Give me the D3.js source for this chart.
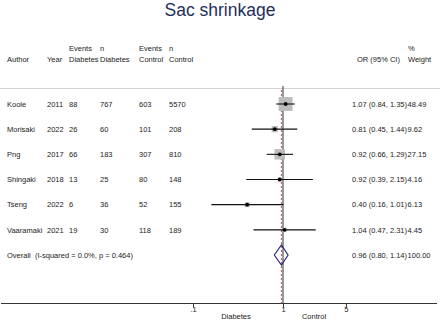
<!DOCTYPE html>
<html>
<head>
<meta charset="utf-8">
<script src="https://cdn.jsdelivr.net/npm/d3@7"></script>
<style>
  body { margin: 0; background: #fff; }
  svg { font-family: "Liberation Sans", Arial, sans-serif; }
</style>
</head>
<body>
<div id="chart"></div>
<script>
// study data
var authors = ["Koole", "Morisaki", "Png", "Shingaki", "Tseng", "Vaaramaki"];
var years = ["2011", "2022", "2017", "2018", "2022", "2021"];
var eventsDiab = ["88", "26", "66", "13", "6", "19"];
var nDiab = ["767", "60", "183", "25", "36", "30"];
var eventsCtrl = ["603", "101", "307", "80", "52", "118"];
var nCtrl = ["5570", "208", "810", "148", "155", "189"];
var orVals = [1.07, 0.81, 0.92, 0.92, 0.40, 1.04];
var loVals = [0.84, 0.45, 0.66, 0.39, 0.16, 0.47];
var hiVals = [1.35, 1.44, 1.29, 2.15, 1.01, 2.31];
var weights = ["48.49", "9.62", "27.15", "4.16", "6.13", "4.45"];
var overall = {label: "Overall  (I-squared = 0.0%, p = 0.464)", or: 0.96, lo: 0.80, hi: 1.14, weight: "100.00"};
var tickVals = [0.1, 1, 5];
var tickLabels = [".1", "1", "5"];

var width = 440, height = 328;
var txt = "#222";

var svg = d3.select("#chart").append("svg")
  .attr("width", width)
  .attr("height", height);

/* title */
svg.append("text")
  .attr("x", 220).attr("y", 16)
  .attr("text-anchor", "middle")
  .attr("fill", "#1f2e5c")
  .style("font-size", "17.5px")
  .text("Sac shrinkage");

/* column headers */
var cols = [
  {x: 7, top: "", bot: "Author"},
  {x: 47, top: "", bot: "Year"},
  {x: 69, top: "Events", bot: "Diabetes"},
  {x: 100, top: "n", bot: "Diabetes"},
  {x: 139, top: "Events", bot: "Control"},
  {x: 169, top: "n", bot: "Control"},
  {x: 357, top: "", bot: "OR (95% CI)"},
  {x: 408, top: "%", bot: "Weight"}
];
var head = svg.append("g").style("font-size", "7.5px").attr("fill", txt);
cols.forEach(function(c) {
  head.append("text").attr("x", c.x).attr("y", 50.5).text(c.top);
  head.append("text").attr("x", c.x).attr("y", 61.5).text(c.bot);
});

svg.append("line")
  .attr("x1", 0).attr("x2", 440)
  .attr("y1", 88.5).attr("y2", 88.5)
  .attr("stroke", "#d4d4d4").attr("stroke-width", 1);

/* scales */
var xScale = d3.scaleLog().domain([0.1, 1]).range([193, 283]);
var rowIdx = authors.map((d, i) => i).concat([authors.length]);
var yScale = d3.scalePoint().domain(rowIdx).range([104, 255]);
var boxSize = d3.scaleSqrt().domain([0, 100]).range([0, 20]);

/* study rows text */
var rows = svg.append("g").style("font-size", "7.5px").attr("fill", txt);
authors.forEach(function(a, i) {
  var y = yScale(i) + 2.7;
  var vals = [a, years[i], eventsDiab[i], nDiab[i], eventsCtrl[i], nCtrl[i]];
  vals.forEach(function(v, j) {
    rows.append("text").attr("x", cols[j].x).attr("y", y).text(v);
  });
  var t = rows.append("text").attr("x", 352).attr("y", y);
  t.append("tspan").text(orVals[i].toFixed(2) + " (" + loVals[i].toFixed(2) + ", " + hiVals[i].toFixed(2) + ")");
  t.append("tspan").attr("dx", 0.5).text(weights[i]);
});
var yo = yScale(authors.length) + 2.7;
rows.append("text").attr("x", 7).attr("y", yo)
  .style("white-space", "pre")
  .text(overall.label);
var to = rows.append("text").attr("x", 352).attr("y", yo);
to.append("tspan").text(overall.or.toFixed(2) + " (" + overall.lo.toFixed(2) + ", " + overall.hi.toFixed(2) + ")");
to.append("tspan").attr("dx", 0.5).text(overall.weight);

/* axis */
var axisY = 303.5;
svg.append("line")
  .attr("x1", 1).attr("x2", 437)
  .attr("y1", axisY).attr("y2", axisY)
  .attr("stroke", "#333").attr("stroke-width", 1);

var xAxis = d3.axisBottom(xScale)
  .tickValues(tickVals)
  .tickSize(4)
  .tickFormat((d, i) => tickLabels[i]);

var ax = svg.append("g")
  .attr("transform", "translate(0," + axisY + ")")
  .call(xAxis);
ax.select(".domain").remove();
ax.selectAll("line").attr("stroke", "#333");
ax.selectAll("text")
  .attr("fill", txt)
  .attr("y", 3)
  .style("font-size", "7.5px")
  .style("font-family", "Liberation Sans, Arial, sans-serif");

svg.append("text").attr("x", 236).attr("y", 319).attr("text-anchor", "middle")
  .attr("fill", txt).style("font-size", "7.5px").text("Diabetes");
svg.append("text").attr("x", 314).attr("y", 319).attr("text-anchor", "middle")
  .attr("fill", txt).style("font-size", "7.5px").text("Control");

/* null line and overall dashed line */
svg.append("line")
  .attr("x1", xScale(1)).attr("x2", xScale(1))
  .attr("y1", 86).attr("y2", axisY)
  .attr("stroke", "#333").attr("stroke-width", 1);

svg.append("line")
  .attr("x1", xScale(overall.or)).attr("x2", xScale(overall.or))
  .attr("y1", 90).attr("y2", axisY)
  .attr("stroke", "#b05a52").attr("stroke-width", 1)
  .attr("stroke-dasharray", "2,2");

/* boxes, CI lines, points */
var marks = svg.append("g");
marks.selectAll("rect.box")
  .data(authors).enter()
  .append("rect")
  .attr("class", "box")
  .attr("x", (d, i) => xScale(orVals[i]) - boxSize(+weights[i]) / 2)
  .attr("y", (d, i) => yScale(i) - boxSize(+weights[i]) / 2)
  .attr("width", (d, i) => boxSize(+weights[i]))
  .attr("height", (d, i) => boxSize(+weights[i]))
  .attr("fill", "#bdbdbd");

marks.selectAll("line.ci")
  .data(authors).enter()
  .append("line")
  .attr("class", "ci")
  .attr("x1", (d, i) => xScale(loVals[i]))
  .attr("x2", (d, i) => xScale(hiVals[i]))
  .attr("y1", (d, i) => yScale(i))
  .attr("y2", (d, i) => yScale(i))
  .attr("stroke", "#111").attr("stroke-width", 1.1);

marks.selectAll("circle")
  .data(authors).enter()
  .append("circle")
  .attr("cx", (d, i) => xScale(orVals[i]))
  .attr("cy", (d, i) => yScale(i))
  .attr("r", 1.9)
  .attr("fill", "#000");

/* overall diamond */
var yc = yScale(authors.length);
var dh = 10;
svg.append("path")
  .attr("d", "M" + xScale(overall.lo) + "," + yc +
    "L" + xScale(overall.or) + "," + (yc - dh) +
    "L" + xScale(overall.hi) + "," + yc +
    "L" + xScale(overall.or) + "," + (yc + dh) + "Z")
  .attr("fill", "none")
  .attr("stroke", "#1a237e")
  .attr("stroke-width", 1.1);
</script>
</body>
</html>
